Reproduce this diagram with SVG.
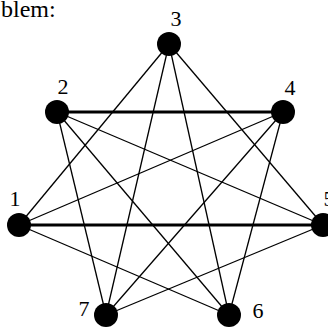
<svg xmlns="http://www.w3.org/2000/svg" width="328" height="329" viewBox="0 0 328 329">
<style>
.t{stroke:#000;stroke-width:1.3;fill:none}
.k{stroke:#000;stroke-width:3.2;fill:none}
.n{fill:#000}
.l{font-family:"Liberation Serif","Times New Roman",serif;font-size:22px;fill:#000;text-anchor:middle}
</style>
<rect width="328" height="329" fill="#fff"/>
<text x="1" y="17" style="font-family:'Liberation Serif',serif;font-size:24px;fill:#000">blem:</text>
<g id="edges">
<line class="k" x1="57" y1="112" x2="283" y2="112"/>
<line class="k" x1="19" y1="225" x2="323" y2="225"/>
<line class="t" x1="169" y1="44" x2="19" y2="225"/>
<line class="t" x1="169" y1="44" x2="106" y2="315"/>
<line class="t" x1="169" y1="44" x2="229" y2="315"/>
<line class="t" x1="169" y1="44" x2="323" y2="225"/>
<line class="t" x1="57" y1="112" x2="106" y2="315"/>
<line class="t" x1="57" y1="112" x2="229" y2="315"/>
<line class="t" x1="57" y1="112" x2="323" y2="225"/>
<line class="t" x1="283" y1="112" x2="19" y2="225"/>
<line class="t" x1="283" y1="112" x2="106" y2="315"/>
<line class="t" x1="283" y1="112" x2="229" y2="315"/>
<line class="t" x1="19" y1="225" x2="229" y2="315"/>
<line class="t" x1="323" y1="225" x2="106" y2="315"/>
</g>
<g id="n1"><circle class="n" cx="19" cy="225" r="12"/><text class="l" x="15" y="206">1</text></g>
<g id="n2"><circle class="n" cx="57" cy="112" r="12"/><text class="l" x="63" y="94">2</text></g>
<g id="n3"><circle class="n" cx="169" cy="44" r="12"/><text class="l" x="176" y="26">3</text></g>
<g id="n4"><circle class="n" cx="283" cy="112" r="12"/><text class="l" x="290" y="95">4</text></g>
<g id="n5"><circle class="n" cx="323" cy="225" r="12"/><text class="l" x="329" y="206">5</text></g>
<g id="n6"><circle class="n" cx="229" cy="315" r="12"/><text class="l" x="258" y="318">6</text></g>
<g id="n7"><circle class="n" cx="106" cy="315" r="12"/><text class="l" x="84" y="316">7</text></g>
</svg>
